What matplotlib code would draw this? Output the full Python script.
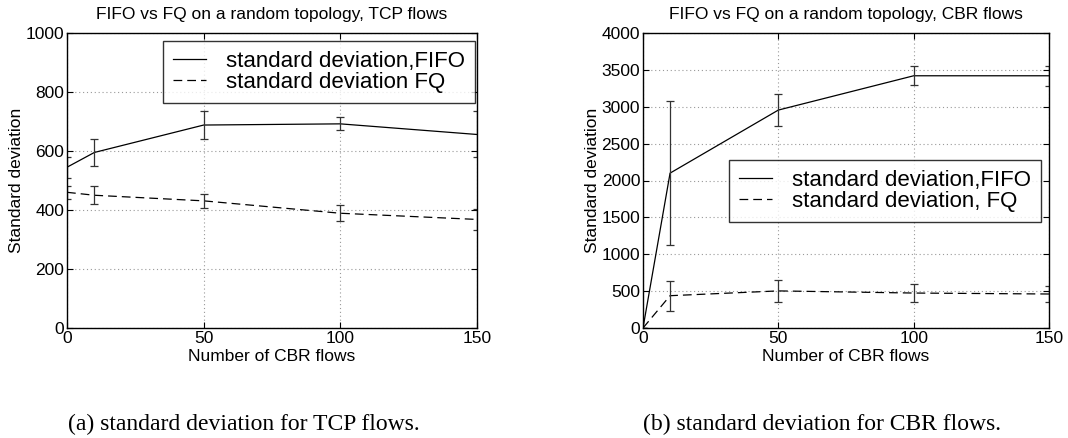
import matplotlib
matplotlib.use("Agg")
import matplotlib.pyplot as plt
import numpy as np

plt.rcParams['font.family'] = ['Liberation Sans', 'DejaVu Sans']

# number of CBR flows
flows = [0, 10, 50, 100, 150]

# TCP flows: standard deviation and its error
tcp_fifo = [545, 595, 688, 692, 656]
tcp_fifo_err = [35, 47, 49, 22, 78]
tcp_fq = [460, 450, 431, 389, 368]
tcp_fq_err = [23, 30, 23, 27, 35]

# CBR flows: standard deviation and its error
cbr_fifo = [0, 2100, 2955, 3420, 3420]
cbr_fifo_err = [0, 980, 215, 128, 135]
cbr_fq = [0, 438, 503, 474, 461]
cbr_fq_err = [0, 203, 145, 128, 104]

titles = ["FIFO vs FQ on a random topology, TCP flows",
          "FIFO vs FQ on a random topology, CBR flows"]
legend_a = ["standard deviation,FIFO", "standard deviation FQ"]
legend_b = ["standard deviation,FIFO", "standard deviation, FQ"]
captions = ["(a) standard deviation for TCP flows.",
            "(b) standard deviation for CBR flows."]

W, H = 1068, 438
fig = plt.figure(figsize=(W / 100, H / 100), dpi=100)


def px_axes(x0, x1, y0, y1):
    return fig.add_axes([x0 / W, 1 - y1 / H, (x1 - x0) / W, (y1 - y0) / H])


def style(ax, ymax, ystep):
    ax.set_xlim(0, 150)
    ax.set_ylim(0, ymax)
    ax.set_xticks([0, 50, 100, 150])
    ax.set_yticks(np.arange(0, ymax + 1, ystep))
    ax.grid(True, linestyle=(0, (1, 2.5)), color='#999999', linewidth=0.8)
    ax.tick_params(direction='in', top=True, right=True, length=4,
                   width=0.8, labelsize=12.5, pad=2)
    for s in ax.spines.values():
        s.set_linewidth(1.0)
    ax.set_xlabel("Number of CBR flows", fontsize=12.5, labelpad=2.5)
    ax.set_ylabel("Standard deviation", fontsize=12.5, labelpad=1)


def plot_pair(ax, y1, e1, y2, e2):
    h1, = ax.plot(flows, y1, color='black', linewidth=0.9)
    ax.errorbar(flows, y1, yerr=e1, fmt='none', ecolor='#333333',
                elinewidth=0.9, capsize=3, capthick=0.9)
    h2, = ax.plot(flows, y2, color='black', linewidth=0.9,
                  linestyle=(0, (7, 4)))
    ax.errorbar(flows, y2, yerr=e2, fmt='none', ecolor='#333333',
                elinewidth=0.9, capsize=3, capthick=0.9)
    return h1, h2


def add_legend(ax, handles, labels, anchor):
    leg = ax.legend(handles, labels, fontsize=16, loc='upper right',
                    bbox_to_anchor=anchor, frameon=True, fancybox=False,
                    edgecolor='black', handlelength=1.5, handletextpad=0.9,
                    labelspacing=0.0, borderpad=0.45, borderaxespad=0)
    leg.get_frame().set_linewidth(1.0)
    return leg


axa = px_axes(67, 477, 33, 328)
style(axa, 1000, 200)
ha = plot_pair(axa, tcp_fifo, tcp_fifo_err, tcp_fq, tcp_fq_err)
axa.set_title(titles[0], fontsize=12.5, pad=10)
add_legend(axa, ha, legend_a, (0.995, 0.973))

axb = px_axes(643, 1049, 33, 328)
style(axb, 4000, 500)
hb = plot_pair(axb, cbr_fifo, cbr_fifo_err, cbr_fq, cbr_fq_err)
axb.set_title(titles[1], fontsize=12.5, pad=10)
add_legend(axb, hb, legend_b, (0.980, 0.569))

serif = ['Liberation Serif', 'DejaVu Serif']
fig.text(68 / W, 1 - 424 / H, captions[0], fontsize=17,
         family=serif, va='center', ha='left')
fig.text(643 / W, 1 - 424 / H, captions[1], fontsize=17,
         family=serif, va='center', ha='left')

fig.savefig("out.png", dpi=100)
